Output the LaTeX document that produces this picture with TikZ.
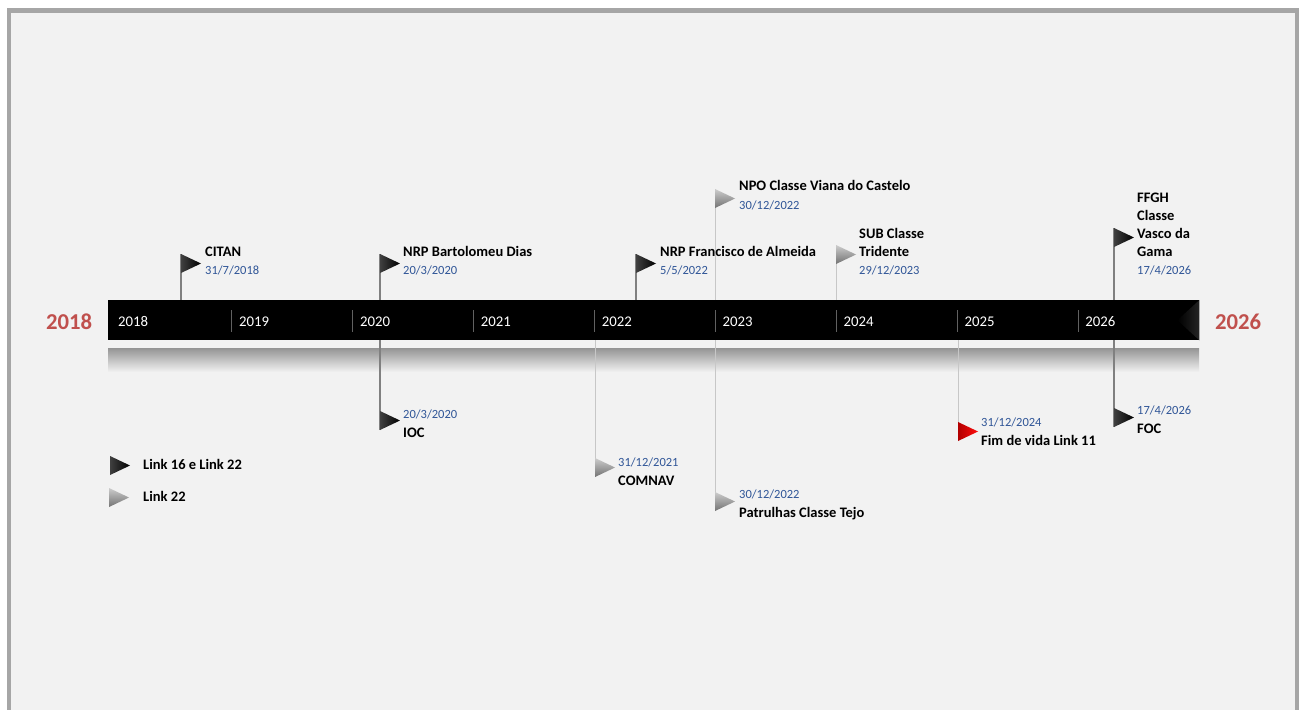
\documentclass[tikz,border=0pt]{standalone}
\usepackage{fontspec}
\setmainfont{Carlito}
\usetikzlibrary{positioning}
\definecolor{panel}{HTML}{F2F2F2}
\definecolor{frame}{HTML}{A6A6A6}
\definecolor{datecol}{HTML}{2F5597}
\definecolor{endred}{HTML}{C0504D}
\newcommand\evdate[1]{{\mdseries\color{datecol}\fontsize{12.5}{18}\selectfont #1}}

\begin{document}
\begin{tikzpicture}[x=1pt,y=-1pt,
    evt/.style={anchor=base west,inner sep=0,align=left,font=\bfseries\fontsize{14.5}{18}\selectfont},
    year/.style={anchor=base west,inner sep=0,text=white,font=\fontsize{14.8}{18}\selectfont},
    endyear/.style={anchor=base west,inner sep=0,text=endred,font=\bfseries\fontsize{22.7}{27}\selectfont},
    yearsep/.style={draw=black!62,line width=1},
    darkpole/.style={draw=black!50,line width=1.2},
    lightpole/.style={draw=black!22,line width=1},
    blackflag/.style={left color=black!75,middle color=black,right color=black},
    grayflag/.style={top color=black!20,bottom color=black!55},
    redflag/.style={left color=red!70!black,right color=red!95!white},
    pics/flag/.style={code={\shade[#1] (0,0) -- (20,9.5) -- (0,19) -- cycle;}}]
  \useasboundingbox (0,0) rectangle (1305,709);
  \fill[white] (0,0) rectangle (1305,709);
  \draw[frame,line width=4.5,fill=panel] (9,10.5) rectangle (1297,714);

  % time bar and its reflection
  \shade[top color=black!42,bottom color=panel] (108,348) rectangle (1199,372);
  \node[fill=black,minimum width=1091,minimum height=40,inner sep=0,anchor=north west] (bar) at (108,300) {};
  \shade[left color=black,right color=black!86] (bar.north east) -- ([xshift=-22pt]bar.east) -- (bar.south east) -- cycle;
  \foreach \yr [count=\k from 0] in {2018,...,2026} {
    \node[year] (y\yr) at (118+\k*120.9,326.7) {\yr};
    \ifnum\k>0 \draw[yearsep] (111+\k*120.9,310) -- (111+\k*120.9,332); \fi
  }
  \node[endyear] (start) at (46,329) {2018};
  \node[endyear] (end) at (1215,329) {2026};

  % flag tops
  \coordinate (citan) at (181,254);
  \coordinate (nrpbd) at (380,254);
  \coordinate (nrpfa) at (636,254);
  \coordinate (npovc) at (715,189);
  \coordinate (subtr) at (836,245);
  \coordinate (ffgh) at (1114,228);
  \coordinate (ioc) at (380,411);
  \coordinate (comnav) at (595,458);
  \coordinate (tejo) at (715,492);
  \coordinate (link11) at (958,422);
  \coordinate (foc) at (1114,408);

  % poles
  \draw[darkpole] (citan) -- (citan |- bar.north);
  \draw[darkpole] (nrpbd) -- (nrpbd |- bar.north);
  \draw[darkpole] (nrpfa) -- (nrpfa |- bar.north);
  \draw[lightpole] (npovc) -- (npovc |- bar.north);
  \draw[lightpole] (subtr) -- (subtr |- bar.north);
  \draw[darkpole] (ffgh) -- (ffgh |- bar.north);
  \draw[darkpole] (bar.south -| ioc) -- ([yshift=-19pt]ioc);
  \draw[lightpole] (bar.south -| comnav) -- ([yshift=-19pt]comnav);
  \draw[lightpole] (bar.south -| tejo) -- ([yshift=-19pt]tejo);
  \draw[lightpole] (bar.south -| link11) -- ([yshift=-19pt]link11);
  \draw[darkpole] (bar.south -| foc) -- ([yshift=-19pt]foc);

  % flags
  \pic at (citan) {flag=blackflag};
  \pic at (nrpbd) {flag=blackflag};
  \pic at (nrpfa) {flag=blackflag};
  \pic at (npovc) {flag=grayflag};
  \pic at (subtr) {flag=grayflag};
  \pic at (ffgh) {flag=blackflag};
  \pic at (ioc) {flag=blackflag};
  \pic at (comnav) {flag=grayflag};
  \pic at (tejo) {flag=grayflag};
  \pic at (link11) {flag=redflag};
  \pic at (foc) {flag=blackflag};

  % labels (base = last line)
  \node[evt] (citan-lbl) at (205,274.2) {CITAN\\\evdate{31/7/2018}};
  \node[evt] (nrpbd-lbl) at (403,274.2) {NRP Bartolomeu Dias\\\evdate{20/3/2020}};
  \node[evt] (nrpfa-lbl) at (660,274.2) {NRP Francisco de Almeida\\\evdate{5/5/2022}};
  \node[evt] (npovc-lbl) at (739,209.2) {NPO Classe Viana do Castelo\\[1pt]\evdate{30/12/2022}};
  \node[evt] (subtr-lbl) at (859,274.2) {SUB Classe\\Tridente\\\evdate{29/12/2023}};
  \node[evt] (ffgh-lbl) at (1137,274.2) {FFGH\\Classe\\Vasco da\\Gama\\\evdate{17/4/2026}};
  \node[evt] (ioc-lbl) at (403,437.6) {\evdate{20/3/2020}\\[1pt]IOC};
  \node[evt] (comnav-lbl) at (618,485.6) {\evdate{31/12/2021}\\[1pt]COMNAV};
  \node[evt] (tejo-lbl) at (739,517.6) {\evdate{30/12/2022}\\[1pt]Patrulhas Classe Tejo};
  \node[evt] (link11-lbl) at (981,445.6) {\evdate{31/12/2024}\\[1pt]Fim de vida Link 11};
  \node[evt] (foc-lbl) at (1137,433.6) {\evdate{17/4/2026}\\[1pt]FOC};

  % legend
  \pic at (110,456) {flag=blackflag};
  \node[evt] (leg-both) at (143,469.6) {Link 16 e Link 22};
  \pic at (109,488) {flag=grayflag};
  \node[evt] (leg-22) at (143,501.6) {Link 22};
\end{tikzpicture}
\end{document}
